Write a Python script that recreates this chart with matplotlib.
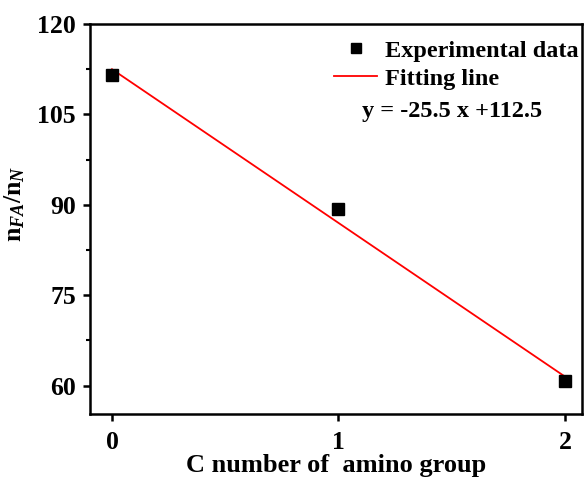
import matplotlib
matplotlib.use('Agg')
import matplotlib.pyplot as plt
from matplotlib.ticker import MultipleLocator

# data
c_number = [0, 1, 2]
ratio = [111.5, 89.3, 60.7]
slope = -25.5
intercept = 112.5
fit_x = [0, 2]
fit_y = [slope * x + intercept for x in fit_x]

plt.rcParams['font.family'] = 'Liberation Serif'
plt.rcParams['font.weight'] = 'bold'
plt.rcParams['mathtext.fontset'] = 'custom'
plt.rcParams['mathtext.rm'] = 'Liberation Serif:bold'
plt.rcParams['mathtext.bf'] = 'Liberation Serif:bold'
plt.rcParams['mathtext.it'] = 'Liberation Serif:italic'

fig = plt.figure(figsize=(5.87, 4.8), dpi=100)
ax = fig.add_axes([90 / 587, 1 - 414 / 480, 492 / 587, 390 / 480])

ax.plot(c_number, ratio, 's', color='black', markersize=8.5, label='Experimental data', zorder=3)
ax.plot(fit_x, fit_y, '-', color='red', linewidth=1.3, label='Fitting line')

ax.set_xlim(-0.097, 2.075)
ax.set_ylim(55.3, 120)
ax.set_xticks([0, 1, 2])
ax.yaxis.set_major_locator(MultipleLocator(15))
ax.yaxis.set_minor_locator(MultipleLocator(7.5))

for s in ax.spines.values():
    s.set_linewidth(1.8)
ax.tick_params(axis='both', which='major', direction='out', length=5, width=1.8,
               labelsize=18.5, top=False, right=False)
ax.tick_params(axis='y', which='minor', direction='out', length=3, width=1.5, right=False)
ax.tick_params(axis='x', pad=7)
ax.tick_params(axis='y', pad=5)

ax.set_xlabel('C number of  amino group', fontsize=19, fontweight='bold', labelpad=0)
ax.set_ylabel(r'$\mathrm{n}_{FA}/\mathrm{n}_{N}$', fontsize=18.5)
ax.yaxis.set_label_coords(-0.128, 0.538)

ax.legend(loc='upper right', frameon=False, fontsize=17.5, handlelength=1.77,
          handletextpad=0.3, borderaxespad=0.0, labelspacing=0.25,
          markerscale=0.9, bbox_to_anchor=(1.012, 0.985))
ax.text(0.553, 0.775, 'y = -25.5 x +112.5', transform=ax.transAxes, fontsize=17.5,
        fontweight='bold', ha='left', va='center')

fig.savefig('out.png', dpi=100)
